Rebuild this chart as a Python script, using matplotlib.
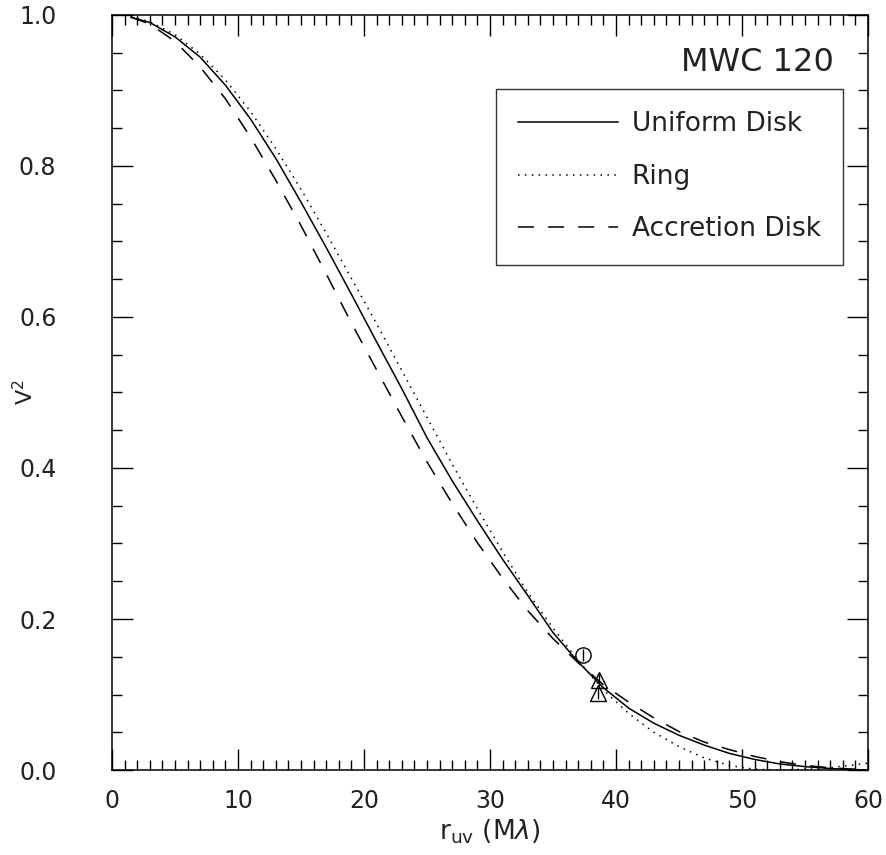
import numpy as np
import matplotlib.pyplot as plt
from matplotlib.ticker import MultipleLocator

# r_uv (Mlambda) sample points
r_uv = [1.5, 3, 5, 7, 9, 11, 13, 15, 17, 19, 21, 23, 25, 27, 29, 31, 33, 35,
        37, 39, 41, 43, 45, 47, 49, 51, 53, 55, 57, 59, 60]

# model curves (V^2)
uniform_disk = [0.997, 0.990, 0.971, 0.944, 0.907, 0.862, 0.810, 0.752, 0.692,
                0.630, 0.567, 0.505, 0.440, 0.383, 0.330, 0.279, 0.231, 0.182,
                0.143, 0.109, 0.082, 0.062, 0.046, 0.033, 0.022, 0.014, 0.008,
                0.0045, 0.002, 0.0005, 0.0]
ring = [0.998, 0.991, 0.974, 0.948, 0.914, 0.872, 0.823, 0.769, 0.711, 0.651,
        0.591, 0.529, 0.467, 0.405, 0.346, 0.289, 0.235, 0.188, 0.145, 0.106,
        0.075, 0.050, 0.031, 0.016, 0.006, 0.001, 0.0, 0.001, 0.003, 0.007,
        0.009]
accretion_disk = [0.997, 0.988, 0.965, 0.931, 0.889, 0.838, 0.781, 0.721,
                  0.657, 0.592, 0.530, 0.468, 0.408, 0.353, 0.301, 0.254,
                  0.211, 0.174, 0.142, 0.113, 0.090, 0.069, 0.051, 0.037,
                  0.027, 0.018, 0.011, 0.006, 0.003, 0.001, 0.0005]

# measured points
circ_r = [37.4]
circ_v2 = [0.152]
circ_err = [0.008]
tri_r = [38.65, 38.6]
tri_v2 = [0.119, 0.102]
tri_err = [0.008, 0.008]

plt.rcParams['font.family'] = 'DejaVu Sans'
txt_col = '#222222'

fig = plt.figure(figsize=(8.87, 8.55), dpi=100)
ax = fig.add_axes([0.1263, 0.0994, 0.8523, 0.8831])

ax.plot(r_uv, uniform_disk, color='black', lw=1.1, ls='-', label='Uniform Disk')
ax.plot(r_uv, ring, color='black', lw=1.1, ls=(0, (1, 3.5)), label='Ring')
ax.plot(r_uv, accretion_disk, color='black', lw=1.1, ls=(0, (10.5, 9.2)),
        label='Accretion Disk')

ax.errorbar(circ_r, circ_v2, yerr=circ_err, fmt='o', mfc='none', mec='black',
            ecolor='black', ms=11, mew=1.0, elinewidth=1.0, capsize=0)
ax.errorbar(tri_r, tri_v2, yerr=tri_err, fmt='^', mfc='none', mec='black',
            ecolor='black', ms=11, mew=1.0, elinewidth=1.0, capsize=0)

ax.set_xlim(0, 60)
ax.set_ylim(0, 1.0)
ax.xaxis.set_major_locator(MultipleLocator(10))
ax.xaxis.set_minor_locator(MultipleLocator(1))
ax.yaxis.set_major_locator(MultipleLocator(0.2))
ax.yaxis.set_minor_locator(MultipleLocator(0.05))
ax.yaxis.set_major_formatter(plt.FuncFormatter(lambda v, p: f"{v:.1f}"))
ax.tick_params(which='both', direction='in', top=True, right=True,
               labelsize=17, width=1.0, color='black', labelcolor=txt_col)
ax.tick_params(which='major', length=15)
ax.tick_params(which='minor', length=7)
ax.tick_params(axis='x', which='major', pad=14)
ax.tick_params(axis='y', which='major', pad=40)
for s in ax.spines.values():
    s.set_linewidth(1.1)

ax.set_xlabel(r'r$_{\rm uv}$ (M$\lambda$)', fontsize=19, labelpad=3,
              color=txt_col)
ax.set_ylabel(r'V$^2$', fontsize=16, color=txt_col)
ax.yaxis.set_label_coords(-0.115, 0.5)
ax.yaxis.label.set_va('center')

ax.text(0.955, 0.958, 'MWC 120', transform=ax.transAxes, ha='right', va='top',
        fontsize=23, color=txt_col)

leg = ax.legend(loc='upper right', bbox_to_anchor=(0.967, 0.902), fontsize=19,
                frameon=True, fancybox=False, edgecolor='black', handlelength=3.8,
                handletextpad=0.5, labelspacing=1.0, borderpad=0.85,
                borderaxespad=0)
leg.get_frame().set_linewidth(1.0)
for t in leg.get_texts():
    t.set_color(txt_col)

fig.savefig('out.png', dpi=100)
